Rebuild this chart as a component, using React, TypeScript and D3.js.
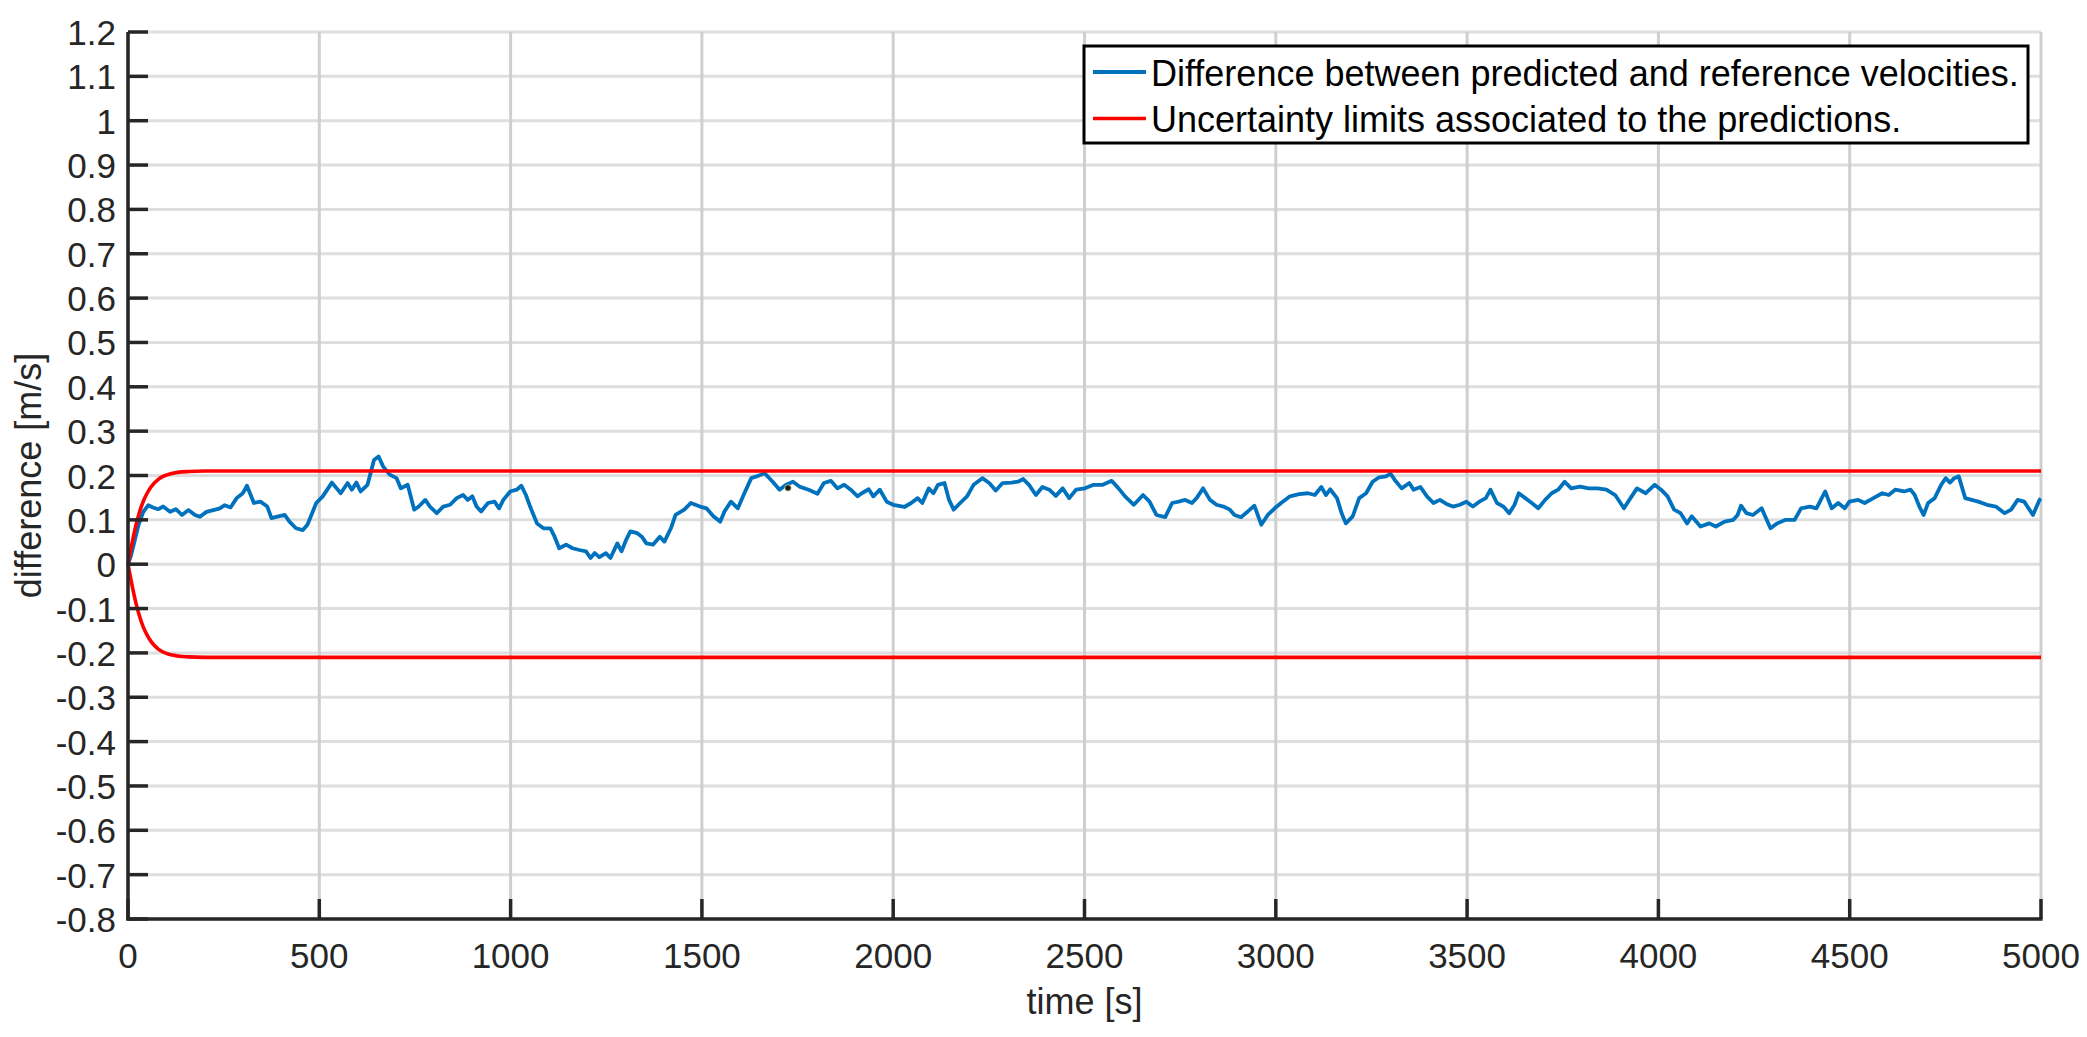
import React from "react";
import * as d3 from "d3";

const timeValues = [
  0, 8, 18, 28, 40, 53, 65, 79, 92, 110, 125, 141, 158, 175, 188, 205, 223, 240, 253, 268, 284, 300, 311, 329, 346, 364, 375, 393, 410, 422, 439, 457, 469, 492, 509, 533, 556, 574, 585, 597, 608, 626, 643, 655, 667, 684, 702, 713, 731, 748, 760, 777, 789, 807, 824, 842, 859, 876, 888, 900, 911, 923, 941, 958, 970, 981, 999, 1016, 1028, 1040, 1051, 1069, 1086, 1104, 1115, 1127, 1145, 1162, 1180, 1197, 1209, 1220, 1232, 1249, 1261, 1279, 1290, 1302, 1313, 1331, 1343, 1355, 1372, 1390, 1402, 1419, 1431, 1454, 1471, 1495, 1512, 1530, 1548, 1559, 1576, 1594, 1611, 1629, 1646, 1664, 1685, 1703, 1720, 1738, 1755, 1779, 1802, 1819, 1837, 1854, 1872, 1889, 1907, 1918, 1936, 1948, 1965, 1983, 2000, 2029, 2047, 2064, 2076, 2093, 2105, 2117, 2134, 2146, 2158, 2175, 2193, 2210, 2233, 2251, 2268, 2286, 2309, 2326, 2340, 2355, 2373, 2390, 2408, 2425, 2443, 2460, 2478, 2501, 2524, 2548, 2571, 2589, 2606, 2629, 2653, 2670, 2688, 2711, 2729, 2746, 2763, 2781, 2793, 2810, 2828, 2845, 2863, 2880, 2892, 2909, 2927, 2944, 2962, 2979, 2997, 3014, 3037, 3061, 3084, 3102, 3119, 3131, 3142, 3160, 3172, 3183, 3201, 3218, 3236, 3253, 3270, 3288, 3300, 3311, 3329, 3349, 3360, 3378, 3395, 3412, 3429, 3446, 3463, 3481, 3498, 3515, 3532, 3549, 3561, 3578, 3595, 3610, 3624, 3635, 3652, 3669, 3686, 3704, 3721, 3738, 3755, 3772, 3795, 3818, 3841, 3864, 3887, 3910, 3927, 3944, 3967, 3990, 4007, 4024, 4041, 4058, 4075, 4087, 4110, 4133, 4150, 4173, 4196, 4207, 4216, 4230, 4247, 4270, 4281, 4293, 4310, 4333, 4356, 4373, 4396, 4413, 4436, 4453, 4470, 4487, 4499, 4522, 4539, 4562, 4585, 4602, 4619, 4642, 4659, 4670, 4682, 4693, 4705, 4722, 4739, 4751, 4762, 4773, 4785, 4802, 4819, 4836, 4859, 4882, 4905, 4922, 4939, 4956, 4979, 4996, 5000,
];

const diffValues = [
  0, 0.02, 0.055, 0.09, 0.118, 0.133, 0.128, 0.124, 0.13, 0.118, 0.124, 0.111, 0.122, 0.111, 0.107, 0.118, 0.122, 0.126, 0.133, 0.128, 0.149, 0.16, 0.177, 0.138, 0.141, 0.13, 0.104, 0.108, 0.111, 0.096, 0.081, 0.077, 0.089, 0.138, 0.153, 0.184, 0.16, 0.183, 0.168, 0.184, 0.164, 0.179, 0.235, 0.243, 0.22, 0.202, 0.194, 0.171, 0.179, 0.123, 0.13, 0.145, 0.13, 0.115, 0.13, 0.134, 0.149, 0.156, 0.145, 0.153, 0.13, 0.119, 0.138, 0.141, 0.126, 0.145, 0.164, 0.168, 0.177, 0.156, 0.13, 0.092, 0.081, 0.081, 0.062, 0.036, 0.044, 0.036, 0.032, 0.029, 0.014, 0.025, 0.016, 0.025, 0.014, 0.047, 0.029, 0.055, 0.074, 0.07, 0.062, 0.047, 0.044, 0.062, 0.051, 0.081, 0.111, 0.123, 0.138, 0.13, 0.126, 0.108, 0.096, 0.119, 0.141, 0.126, 0.16, 0.194, 0.199, 0.205, 0.186, 0.168, 0.179, 0.186, 0.175, 0.168, 0.159, 0.183, 0.188, 0.171, 0.179, 0.168, 0.153, 0.16, 0.169, 0.153, 0.168, 0.141, 0.134, 0.129, 0.138, 0.149, 0.138, 0.171, 0.16, 0.179, 0.183, 0.145, 0.123, 0.138, 0.153, 0.179, 0.194, 0.183, 0.166, 0.183, 0.184, 0.186, 0.192, 0.179, 0.156, 0.174, 0.168, 0.154, 0.171, 0.149, 0.168, 0.171, 0.179, 0.179, 0.188, 0.171, 0.153, 0.134, 0.156, 0.141, 0.111, 0.106, 0.138, 0.141, 0.145, 0.138, 0.149, 0.171, 0.145, 0.134, 0.13, 0.123, 0.111, 0.106, 0.119, 0.132, 0.089, 0.111, 0.126, 0.138, 0.153, 0.158, 0.16, 0.156, 0.174, 0.156, 0.169, 0.149, 0.115, 0.092, 0.108, 0.149, 0.16, 0.186, 0.196, 0.198, 0.204, 0.19, 0.171, 0.183, 0.168, 0.174, 0.153, 0.138, 0.145, 0.136, 0.13, 0.134, 0.141, 0.13, 0.141, 0.149, 0.168, 0.138, 0.13, 0.115, 0.134, 0.16, 0.149, 0.138, 0.126, 0.145, 0.16, 0.168, 0.186, 0.171, 0.175, 0.171, 0.171, 0.168, 0.156, 0.126, 0.149, 0.171, 0.16, 0.179, 0.168, 0.153, 0.123, 0.115, 0.092, 0.108, 0.085, 0.092, 0.085, 0.096, 0.1, 0.111, 0.132, 0.115, 0.111, 0.126, 0.104, 0.081, 0.092, 0.1, 0.1, 0.126, 0.13, 0.126, 0.164, 0.126, 0.138, 0.126, 0.141, 0.145, 0.138, 0.149, 0.16, 0.156, 0.168, 0.164, 0.168, 0.156, 0.13, 0.111, 0.138, 0.149, 0.179, 0.194, 0.184, 0.194, 0.198, 0.149, 0.145, 0.141, 0.134, 0.13, 0.115, 0.123, 0.145, 0.141, 0.111, 0.145, 0.148,
];

const limitTimes = [0, 10, 20, 30, 40, 50, 60, 80, 100, 130, 160, 200, 300, 5000];
const upperLimit = [0, 0.045, 0.085, 0.117, 0.142, 0.16, 0.174, 0.192, 0.201, 0.207, 0.209, 0.21, 0.21, 0.21];
const lowerLimit = [0, -0.045, -0.085, -0.117, -0.142, -0.16, -0.174, -0.192, -0.201, -0.207, -0.209, -0.21, -0.21, -0.21];

const markerTimes = [1725];
const markerValues = [0.172];

const xTickValues = [0, 500, 1000, 1500, 2000, 2500, 3000, 3500, 4000, 4500, 5000];
const yTickValues = [-0.8, -0.7, -0.6, -0.5, -0.4, -0.3, -0.2, -0.1, 0, 0.1, 0.2, 0.3, 0.4, 0.5, 0.6, 0.7, 0.8, 0.9, 1, 1.1, 1.2];

const legendLabels = [
  "Difference between predicted and reference velocities.",
  "Uncertainty limits associated to the predictions.",
];
const xAxisTitle = "time [s]";
const yAxisTitle = "difference [m/s]";

const W = 2087;
const H = 1037;
const PL = 128, PR = 2041, PT = 32, PB = 919;
const FONT = "'Liberation Sans', Arial, Helvetica, sans-serif";
const AXIS = "#262626";
const BLUE = "#0072BD";
const RED = "#FF0000";

function fmt(v: number) {
  const r = Math.round(v * 10) / 10;
  return String(r);
}

export default function App() {
  const x = d3.scaleLinear().domain([0, 5000]).range([PL, PR]);
  const y = d3.scaleLinear().domain([-0.8, 1.2]).range([PB, PT]);

  const line = d3
    .line<[number, number]>()
    .x((d) => x(d[0]))
    .y((d) => y(d[1]));
  const smooth = d3
    .line<[number, number]>()
    .x((d) => x(d[0]))
    .y((d) => y(d[1]))
    .curve(d3.curveMonotoneX);

  const blueData: [number, number][] = timeValues.map((t, i) => [t, diffValues[i]]);
  const upData: [number, number][] = limitTimes.map((t, i) => [t, upperLimit[i]]);
  const loData: [number, number][] = limitTimes.map((t, i) => [t, lowerLimit[i]]);

  const legX = 1084, legY = 46, legW = 944, legH = 97;

  return (
    <svg
      width={W}
      height={H}
      style={{ position: "absolute", left: 0, top: 0, background: "#fff" }}
      fontFamily={FONT}
    >
      <rect x={0} y={0} width={W} height={H} fill="#fff" />
      {/* grid */}
      {yTickValues.map((v) => (
        <line key={"gy" + v} x1={PL} x2={PR} y1={y(v)} y2={y(v)} stroke="#dedede" strokeWidth={3} />
      ))}
      {xTickValues.map((v) => (
        <line key={"gx" + v} x1={x(v)} x2={x(v)} y1={PT} y2={PB} stroke="#cfcfcf" strokeWidth={3} />
      ))}

      {/* data */}
      <path d={line(blueData) || ""} fill="none" stroke={BLUE} strokeWidth={3.8} strokeLinejoin="round" />
      <path d={smooth(upData) || ""} fill="none" stroke={RED} strokeWidth={3.6} />
      <path d={smooth(loData) || ""} fill="none" stroke={RED} strokeWidth={3.6} />
      {markerTimes.map((t, i) => (
        <circle key={"m" + i} cx={x(t)} cy={y(markerValues[i])} r={3.2} fill="#1a1a1a" stroke="#d8d890" strokeWidth={0.8} />
      ))}

      {/* axes */}
      <line x1={PL} x2={PL} y1={PT} y2={PB + 1.5} stroke={AXIS} strokeWidth={3.5} />
      <line x1={PL - 1.5} x2={PR + 1.5} y1={PB} y2={PB} stroke={AXIS} strokeWidth={3.5} />
      {yTickValues.map((v) => (
        <g key={"ty" + v}>
          <line x1={PL} x2={PL + 20} y1={y(v)} y2={y(v)} stroke={AXIS} strokeWidth={3.5} />
          <text x={116} y={y(v) + 13} textAnchor="end" fontSize={35} fill={AXIS}>
            {fmt(v)}
          </text>
        </g>
      ))}
      {xTickValues.map((v) => (
        <g key={"tx" + v}>
          <line x1={x(v)} x2={x(v)} y1={PB} y2={PB - 20} stroke={AXIS} strokeWidth={3.5} />
          <text x={x(v)} y={968} textAnchor="middle" fontSize={35} fill={AXIS}>
            {String(v)}
          </text>
        </g>
      ))}

      {/* axis titles */}
      <text x={(PL + PR) / 2} y={1014} textAnchor="middle" fontSize={36} fill={AXIS}>
        {xAxisTitle}
      </text>
      <text
        transform={`translate(41,${(PT + PB) / 2}) rotate(-90)`}
        textAnchor="middle"
        fontSize={36}
        fill={AXIS}
      >
        {yAxisTitle}
      </text>

      {/* legend */}
      <rect x={legX} y={legY} width={legW} height={legH} fill="#fff" stroke="#000" strokeWidth={3} />
      <line x1={1093} x2={1146} y1={72} y2={72} stroke={BLUE} strokeWidth={3.8} />
      <line x1={1093} x2={1146} y1={118.5} y2={118.5} stroke={RED} strokeWidth={3.6} />
      <text x={1151} y={86} fontSize={36} fill="#000">
        {legendLabels[0]}
      </text>
      <text x={1151} y={132} fontSize={36} fill="#000">
        {legendLabels[1]}
      </text>
    </svg>
  );
}
